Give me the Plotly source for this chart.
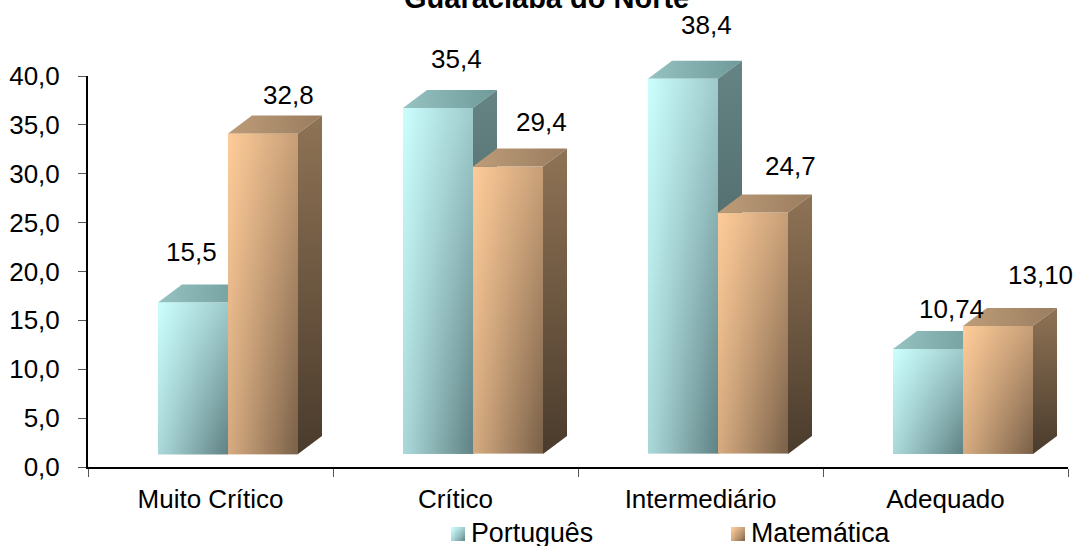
import numpy as np
import plotly.graph_objects as go

# ---- data ----
CATEGORIES = ["Muito Crítico", "Crítico", "Intermediário", "Adequado"]
PORTUGUES = [15.5, 35.4, 38.4, 10.74]
MATEMATICA = [32.8, 29.4, 24.7, 13.10]
PORTUGUES_LABELS = ["15,5", "35,4", "38,4", "10,74"]
MATEMATICA_LABELS = ["32,8", "29,4", "24,7", "13,10"]
TITLE = "Guaraciaba do Norte"
SERIES_NAMES = ["Português", "Matemática"]
Y_TICKS = [0, 5, 10, 15, 20, 25, 30, 35, 40]

# ---- geometry / style ----
W, H = 1077, 546
PLOT_L, PLOT_R, PLOT_T, PLOT_B = 88, 1068, 76, 467
PX_X = (PLOT_R - PLOT_L) / 4          # pixels per category
PX_Y = (PLOT_B - PLOT_T) / 40         # pixels per unit
BAR_W = 70 / PX_X
DEPTH_X = 24 / PX_X
DEPTH_Y = 18 / PX_Y
BASE = 13 / PX_Y
GAP = 70 / PX_X
FONT = "Liberation Sans"

STYLE = {
    "p": dict(front=[[0, "#CCFFFF"], [1, "#557578"]],
              top=("#96c2c2", "#6f9a9a"), side=("#668484", "#3a5252")),
    "m": dict(front=[[0, "#FFCC99"], [1, "#6b5540"]],
              top=("#bd9c78", "#9a7d5f"), side=("#8f7355", "#4a3b2c")),
}
P_LABEL_SHIFT = [(-2, 50), (18, 49), (23, 54), (23, 40)]
M_LABEL_SHIFT = [(25, 38), (33, 45), (37, 47), (42, 51)]


def shade(n=16):
    u = (np.arange(n) + .5) / n
    v = 1 - (np.arange(n) + .5) / n
    uu, vv = np.meshgrid(u, v)
    return .38 * uu + .28 * vv + .26 * uu * vv


def front(x0, x1, y0, y1, scale, xa, ya, n=16):
    return go.Heatmap(x=np.linspace(x0, x1, n + 1), y=np.linspace(y0, y1, n + 1),
                      z=shade(n), zmin=0, zmax=1, zsmooth="best", colorscale=scale,
                      showscale=False, hoverinfo="skip", xaxis=xa, yaxis=ya)


def poly(xs, ys, colors, kind, ya):
    return go.Scatter(x=xs, y=ys, mode="lines", line=dict(width=0), fill="toself",
                      fillgradient=dict(type=kind, colorscale=[[0, colors[0]], [1, colors[1]]]),
                      hoverinfo="skip", showlegend=False, xaxis="x", yaxis=ya)


def top_face(x0, y1, colors, ya):
    xs = [x0, x0 + BAR_W, x0 + BAR_W + DEPTH_X, x0 + DEPTH_X, x0]
    ys = [y1, y1, y1 + DEPTH_Y, y1 + DEPTH_Y, y1]
    return poly(xs, ys, colors, "horizontal", ya)


def side_face(x1, y0, y1, colors, ya):
    xs = [x1, x1 + DEPTH_X, x1 + DEPTH_X, x1, x1]
    ys = [y0, y0 + DEPTH_Y, y1 + DEPTH_Y, y1, y0]
    return poly(xs, ys, (colors[1], colors[0]), "vertical", ya)


fig = go.Figure()
annotations = []

for i, (p, m) in enumerate(zip(PORTUGUES, MATEMATICA)):
    xp = i + GAP
    xm = xp + BAR_W
    # Português top and side sit behind everything
    fig.add_trace(top_face(xp, BASE + p, STYLE["p"]["top"], "y2"))
    fig.add_trace(side_face(xp + BAR_W, BASE, BASE + p, STYLE["p"]["side"], "y2"))
    # front faces, then Matemática top and side, on the overlaid subplot
    fig.add_trace(front(xp, xp + BAR_W, BASE, BASE + p, STYLE["p"]["front"], "x", "y3"))
    fig.add_trace(front(xm, xm + BAR_W, BASE, BASE + m, STYLE["m"]["front"], "x", "y3"))
    fig.add_trace(top_face(xm, BASE + m, STYLE["m"]["top"], "y3"))
    fig.add_trace(side_face(xm + BAR_W, BASE, BASE + m, STYLE["m"]["side"], "y3"))

    for x0, v, txt, (dx, dy) in ((xp, p, PORTUGUES_LABELS[i], P_LABEL_SHIFT[i]),
                                 (xm, m, MATEMATICA_LABELS[i], M_LABEL_SHIFT[i])):
        annotations.append(dict(x=x0 + BAR_W / 2, y=BASE + v, xref="x", yref="y", text=txt,
                                showarrow=False, xshift=dx, yshift=dy,
                                font=dict(family=FONT, size=26, color="#000")))

# legend swatches live on a page-sized overlay
for x0, key in ((451, "p"), (731, "m")):
    fig.add_trace(front(x0, x0 + 14, 541, 527, STYLE[key]["front"], "x2", "y4"))
for x0, name in ((469, SERIES_NAMES[0]), (749, SERIES_NAMES[1])):
    annotations.append(dict(x=x0, y=533, xref="x2", yref="y4", text=name, showarrow=False,
                            xanchor="left", yanchor="middle",
                            font=dict(family=FONT, size=26.8, color="#000")))

# title runs off the top of the page, as in the reference
annotations.append(dict(x=546 / W, y=1 + 2.5 / H, xref="paper", yref="paper", text=f"<b>{TITLE}</b>",
                        showarrow=False, xanchor="center", yanchor="middle",
                        font=dict(family=FONT, size=29, color="#000")))

fig.update_layout(
    width=W, height=H, autosize=False, showlegend=False,
    margin=dict(l=0, r=0, t=0, b=0, pad=0, autoexpand=False),
    paper_bgcolor="white", plot_bgcolor="rgba(0,0,0,0)",
    separators=",.",
    font=dict(family=FONT, size=26, color="#000"),
    annotations=annotations,
    xaxis=dict(domain=[PLOT_L / W, PLOT_R / W], range=[0, 4], showgrid=False, zeroline=False,
               showline=True, linecolor="#000", linewidth=2,
               tickmode="array", tickvals=[i + .5 for i in range(4)], ticktext=CATEGORIES,
               ticks="", ticklen=0, ticklabelstandoff=8,
               tickfont=dict(family=FONT, size=26, color="#000"),
               minor=dict(tickmode="array", tickvals=list(range(5)), ticks="outside",
                          ticklen=8, tickwidth=1, tickcolor="#555")),
    yaxis=dict(domain=[1 - PLOT_B / H, 1 - PLOT_T / H], range=[0, 40], showgrid=False, zeroline=False,
               showline=True, linecolor="#000", linewidth=2,
               tickmode="array", tickvals=Y_TICKS, tickformat=".1f",
               ticks="outside", ticklen=8, tickwidth=1, tickcolor="#555", ticklabelstandoff=13,
               tickfont=dict(family=FONT, size=26, color="#000")),
    # same scale as yaxis, but running up to the page top so the 3D faces above 40 are not clipped
    yaxis2=dict(domain=[1 - PLOT_B / H, 1], range=[0, PLOT_B / PX_Y], visible=False, anchor="x"),
    yaxis3=dict(overlaying="y2", range=[0, PLOT_B / PX_Y], visible=False, anchor="x"),
    xaxis2=dict(domain=[0, 1], range=[0, W], visible=False, anchor="y4"),
    yaxis4=dict(domain=[0, 1], range=[H, 0], visible=False, anchor="x2"),
)

fig.write_html("out.html", config={"displayModeBar": False},
               post_script="document.body.style.margin='0';document.body.style.overflow='hidden';")
